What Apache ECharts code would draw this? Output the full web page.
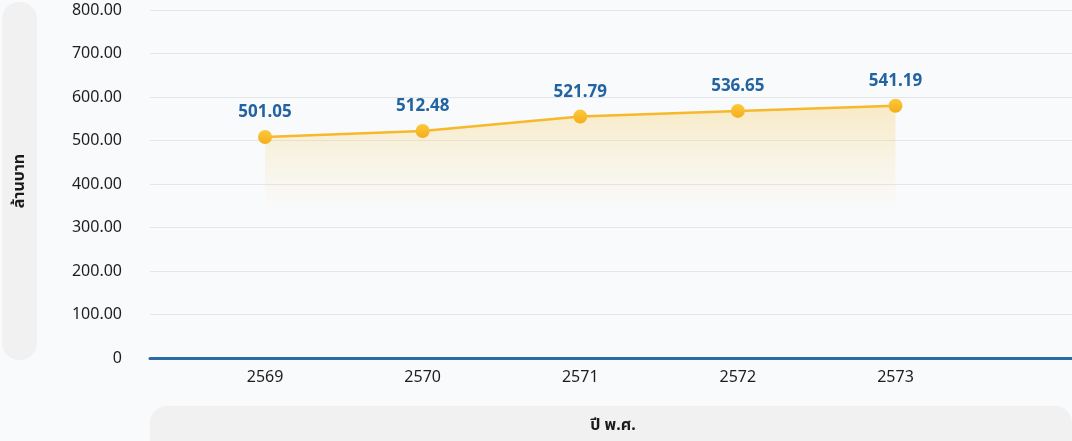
<!DOCTYPE html>
<html>
<head>
<meta charset="utf-8">
<script src="https://cdn.jsdelivr.net/npm/echarts@6/dist/echarts.min.js"></script>
<style>
  html, body { margin: 0; padding: 0; background: #f9fafc; }
  #line_chart { width: 1072px; height: 441px; }
</style>
</head>
<body>
<!-- งบประมาณรายปี เส้นเดียว -->
<div id="line_chart"></div>
<script>
// ปี พ.ศ.
const years = [2569, 2570, 2571, 2572, 2573]
// ตำแหน่งจุดบนกราฟ (ล้านบาท)
const values = [508, 522, 555, 568, 580]
// ข้อความที่แสดงบนจุด
const pointLabels = ['501.05', '512.48', '521.79', '536.65', '541.19']
// ค่าแกน Y
const yTicks = [0, 100, 200, 300, 400, 500, 600, 700, 800]

const font = '"Noto Sans", "Noto Sans Thai", "DejaVu Sans", sans-serif'

const myChart = echarts.init(document.getElementById('line_chart'))

const option = {
  backgroundColor: '#f9fafc',
  animation: false,
  textStyle: { fontFamily: font },
  grid: {
    left: 150,
    right: 0,
    top: 10,
    bottom: 83
  },
  graphic: [
    // กล่องชื่อแกน Y
    {
      type: 'rect',
      left: 2,
      top: 2,
      shape: { width: 35, height: 358, r: 17 },
      style: { fill: '#f1f1f2' },
      z: 0
    },
    {
      type: 'text',
      x: 19,
      y: 181,
      rotation: Math.PI / 2,
      style: {
        text: 'ล้านบาท',
        fill: '#1a1a1a',
        font: 'bold 16px ' + font,
        align: 'center',
        verticalAlign: 'middle'
      },
      z: 1
    },
    // กล่องชื่อแกน X
    {
      type: 'rect',
      left: 150,
      top: 406,
      shape: { width: 922, height: 60, r: 17 },
      style: { fill: '#f1f1f2' },
      z: 0
    },
    {
      type: 'text',
      x: 613,
      y: 425,
      style: {
        text: 'ปี พ.ศ.',
        fill: '#1a1a1a',
        font: 'bold 16px ' + font,
        align: 'center',
        verticalAlign: 'middle'
      },
      z: 1
    }
  ],
  xAxis: {
    type: 'value',
    min: 2568.27,
    max: 2574.12,
    axisLine: {
      show: true,
      onZero: false,
      lineStyle: { color: '#2c6aa3', width: 3 }
    },
    axisTick: { show: false },
    splitLine: { show: false },
    axisLabel: {
      customValues: years,
      color: '#1e1e1e',
      fontSize: 16,
      margin: 11,
      formatter: v => String(v)
    }
  },
  yAxis: {
    type: 'value',
    min: yTicks[0],
    max: yTicks[yTicks.length - 1],
    interval: 100,
    axisLine: { show: false },
    axisTick: { show: false },
    splitLine: {
      lineStyle: { color: '#e4e6ea', width: 1 }
    },
    axisLabel: {
      color: '#1e1e1e',
      fontSize: 16,
      margin: 28,
      formatter: v => (v === 0 ? '0' : v.toFixed(2))
    }
  },
  series: [{
    type: 'line',
    data: years.map((y, i) => [y, values[i]]),
    symbol: 'circle',
    symbolSize: 14,
    lineStyle: { color: '#f7b82a', width: 2.5 },
    itemStyle: {
      color: new echarts.graphic.LinearGradient(0, 0, 0, 1, [
        { offset: 0, color: '#fcc93a' },
        { offset: 1, color: '#f4ae1c' }
      ])
    },
    areaStyle: {
      origin: 'start',
      color: new echarts.graphic.LinearGradient(0, 0, 0, 1, [
        { offset: 0, color: 'rgba(244, 200, 80, 0.45)' },
        { offset: 0.42, color: 'rgba(244, 210, 120, 0.0)' },
        { offset: 1, color: 'rgba(244, 210, 120, 0.0)' }
      ])
    },
    label: {
      show: true,
      position: 'top',
      distance: 9,
      color: '#2364a0',
      fontSize: 17,
      fontWeight: 'bold',
      formatter: p => pointLabels[p.dataIndex]
    }
  }]
}

myChart.setOption(option)
window.addEventListener('resize', () => myChart.resize())
</script>
</body>
</html>
